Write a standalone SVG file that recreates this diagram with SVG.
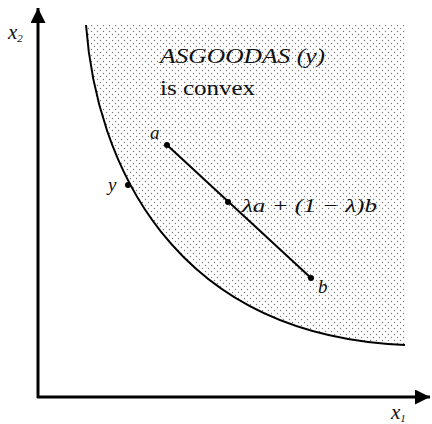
<svg xmlns="http://www.w3.org/2000/svg" width="432" height="424" viewBox="0 0 432 424">
<defs>
<pattern id="dots" width="6" height="6" patternUnits="userSpaceOnUse">
<circle cx="1.5" cy="1.5" r="0.7" fill="#777"/>
<circle cx="4.5" cy="4.5" r="0.7" fill="#777"/>
</pattern>
<marker id="arr" viewBox="0 0 10 10" refX="10" refY="5" markerWidth="5" markerHeight="5" orient="auto" markerUnits="strokeWidth">
<path d="M0,0 L10,5 L0,10 z" fill="#000"/>
</marker>
</defs>
<style>
text{font-family:"Liberation Serif","Times New Roman",serif;fill:#111}
.it{font-style:italic}
.dot{fill:#000}
</style>
<rect width="432" height="424" fill="#fff"/>
<g id="region">
<path d="M86,25 C96,160 170,335 405,345 L405,25 Z" fill="url(#dots)"/>
<path d="M86,25 C96,160 170,335 405,345" fill="none" stroke="#000" stroke-width="2"/>
<text class="it" x="160" y="63" font-size="21" textLength="165" lengthAdjust="spacingAndGlyphs">ASGOODAS (y)</text>
<text x="160" y="95" font-size="22" textLength="95" lengthAdjust="spacingAndGlyphs">is convex</text>
</g>
<g id="axes">
<line x1="38" y1="398" x2="38" y2="8" stroke="#000" stroke-width="3" marker-end="url(#arr)"/>
<line x1="37" y1="397" x2="430" y2="397" stroke="#000" stroke-width="3" marker-end="url(#arr)"/>
<text class="it" x="8" y="39" font-size="21">x<tspan font-size="11" dy="3">2</tspan></text>
<text class="it" x="391" y="419" font-size="21">x<tspan font-size="11" dy="3">1</tspan></text>
</g>
<g id="connectors">
<line x1="167" y1="145" x2="311" y2="278" stroke="#000" stroke-width="2"/>
</g>
<g id="node-a">
<circle class="dot" cx="167" cy="145" r="3"/>
<text class="it" x="150" y="139" font-size="19">a</text>
</g>
<g id="node-y">
<circle class="dot" cx="128" cy="185" r="3"/>
<text class="it" x="108" y="191" font-size="19">y</text>
</g>
<g id="node-mid">
<circle class="dot" cx="228" cy="202" r="3"/>
<text class="it" x="242" y="212" font-size="19" textLength="135" lengthAdjust="spacingAndGlyphs">λa + (1 − λ)b</text>
</g>
<g id="node-b">
<circle class="dot" cx="311" cy="278" r="3"/>
<text class="it" x="318" y="293" font-size="19">b</text>
</g>
</svg>
